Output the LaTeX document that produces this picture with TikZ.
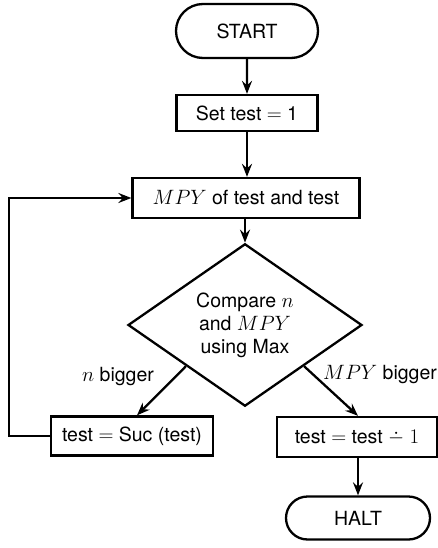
\documentclass[tikz,border=0pt]{standalone}
\usepackage{fontspec}
\setmainfont{TeX Gyre Heros}
\usetikzlibrary{shapes.geometric,shapes.misc,arrows.meta}
\newcommand{\monusop}{\mathbin{\ooalign{$-$\cr\hidewidth\raisebox{0.45ex}{$\cdot$}\hidewidth\cr}}}
\begin{document}
\begin{tikzpicture}[x=1pt,y=-1pt,
  line width=2.3pt,
  every node/.style={font=\fontsize{19.5}{23}\selectfont},
  box/.style={draw, rectangle, inner sep=0pt},
  term/.style={draw, rounded rectangle, inner sep=0pt},
  decision/.style={draw, diamond, inner sep=0pt, align=center},
  arr/.style={-{Stealth[length=13pt,width=10pt,inset=4.5pt]}},
  lbl/.style={inner sep=0pt}]
\useasboundingbox (0,0) rectangle (438,548);
\node[term, minimum width=142pt, minimum height=54pt] (start) at (247,31) {START};
\node[box, minimum width=141pt, minimum height=36pt] (set) at (247,113) {Set test $=$ 1};
\node[box, minimum width=227pt, minimum height=40pt] (mpy) at (246,198) {$MPY$ of test and test};
\node[decision, minimum width=234pt, minimum height=135pt] (dia) at (245,325) {Compare $n$\\and $MPY$\\using Max};
\node[box, minimum width=162pt, minimum height=39pt] (lbox) at (132,436) {test $=$ Suc (test)};
\node[box, minimum width=160pt, minimum height=40pt] (rbox) at (357,437) {test $=$ test $\monusop$ $1$};
\node[term, minimum width=144pt, minimum height=43pt] (halt) at (358,518) {HALT};
\node[lbl] (nb) at (118,377) {$n$ bigger};
\node[lbl, anchor=east] (mb) at (438,375) {$MPY$ bigger};
\coordinate (fb) at (9,0);
\draw[arr] (start) -- (set);
\draw[arr] (set) -- (set |- mpy.north);
\draw[arr] (mpy.south -| dia.north) -- (dia.north);
\draw[arr] (dia.south west) -- ([xshift=5pt]lbox.north);
\draw[arr] (dia.south east) -- ([xshift=1pt]rbox.north);
\draw[arr] ([xshift=1pt]rbox.south) -- ([xshift=1pt]rbox.south |- halt.north);
\draw[arr] (lbox.west) -- (lbox.west -| fb) |- (mpy.west);
\end{tikzpicture}
\end{document}
